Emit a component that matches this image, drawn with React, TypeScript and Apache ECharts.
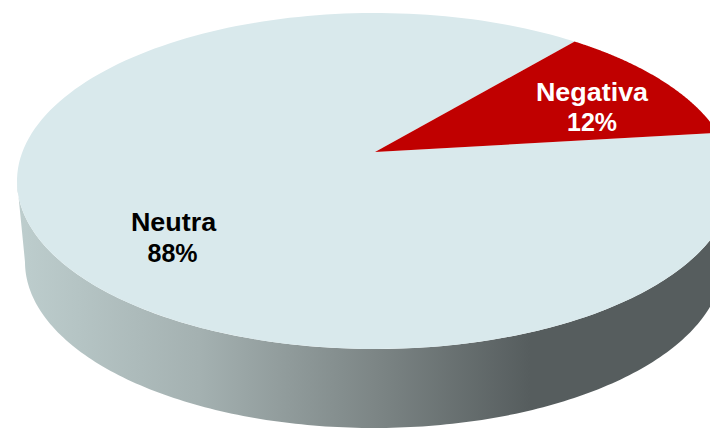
import React, { useEffect, useRef } from "react";
import * as echarts from "echarts";

const categories = ["Neutra", "Negativa"];
const values = [88, 12];

const W = 710, H = 428;
const TOP = { cx: 375, cy: 181, rx: 358, ry: 168 };
const RIM = { cx: 374, cy: 262, rx: 349, ry: 166 };
const APEX_E = 29 / 168;
const START_DEG = -6.9;
const COLORS = ["#d9e9ec", "#c00000"];
const NAME_POS = [[173.5, 222], [592, 92]];
const VALUE_POS = [[172.5, 253], [592, 122]];
const LABEL_FILL = ["#000000", "#ffffff"];

// perspective map: angle on the real disc -> point on the top ellipse
function disc(deg: number, e = APEX_E, box = TOP): [number, number] {
  const a = (deg * Math.PI) / 180;
  const u = Math.cos(a), v = Math.sin(a);
  const d = 1 - e * v;
  return [box.cx + box.rx * (u * Math.sqrt(1 - e * e)) / d, box.cy + box.ry * (v - e) / d];
}
function ell(box: typeof TOP, deg: number): [number, number] {
  const a = (deg * Math.PI) / 180;
  return [box.cx + box.rx * Math.cos(a), box.cy + box.ry * Math.sin(a)];
}

function renderItem(params: any, api: any) {
  const i = params.dataIndex;
  const total = values.reduce((s, x) => s + x, 0);
  const before = values.slice(0, i).reduce((s, x) => s + x, 0);
  const a0 = START_DEG + (before / total) * 360;
  const a1 = a0 + (api.value(0) / total) * 360;
  const pts: [number, number][] = [];
  pts.push([TOP.cx, TOP.cy - TOP.ry * APEX_E]);
  for (let k = 0; k <= 180; k++) pts.push(disc(a0 + ((a1 - a0) * k) / 180));
  const children: any[] = [];
  if (i === 0) {
    const side: [number, number][] = [];
    for (let d = 0; d <= 180; d += 1) side.push(ell(TOP, d));
    for (let d = 180; d >= 0; d -= 1) side.push(ell(RIM, d));
    children.push({
      type: "polygon",
      shape: { points: side },
      style: {
        fill: {
          type: "linear", x: 20, y: 0, x2: 530, y2: 0, global: true,
          colorStops: [
            { offset: 0, color: "#bdcdcd" },
            { offset: 0.35, color: "#a4b1b1" },
            { offset: 0.7, color: "#7c8585" },
            { offset: 1, color: "#565d5e" },
          ],
        },
      },
    });
  }
  children.push({
    type: "polygon",
    shape: { points: pts },
    style: { fill: COLORS[i] },
  });
  children.push({
    type: "text",
    x: NAME_POS[i][0],
    y: NAME_POS[i][1],
    scaleX: 1.035,
    z2: 10,
    style: {
      text: categories[i],
      fill: LABEL_FILL[i],
      font: 'bold 26px "Liberation Sans", Arial, sans-serif',
      align: "center",
      verticalAlign: "middle",
    },
  });
  children.push({
    type: "text",
    x: VALUE_POS[i][0],
    y: VALUE_POS[i][1],
    z2: 10,
    style: {
      text: api.value(0) + "%",
      fill: LABEL_FILL[i],
      font: 'bold 25px "Liberation Sans", Arial, sans-serif',
      align: "center",
      verticalAlign: "middle",
    },
  });
  return { type: "group", children };
}

export default function App() {
  const ref = useRef<HTMLDivElement>(null);
  useEffect(() => {
    const chart = echarts.init(ref.current!, null, { renderer: "svg" });
    chart.setOption({
      animation: false,
      backgroundColor: "#ffffff",
      series: [
        {
          type: "custom",
          coordinateSystem: "none",
          renderItem,
          data: values.map((v) => [v]),
          silent: true,
        },
      ],
    });
    return () => chart.dispose();
  }, []);
  return <div ref={ref} style={{ position: "fixed", left: 0, top: 0, width: W, height: H }} />;
}
